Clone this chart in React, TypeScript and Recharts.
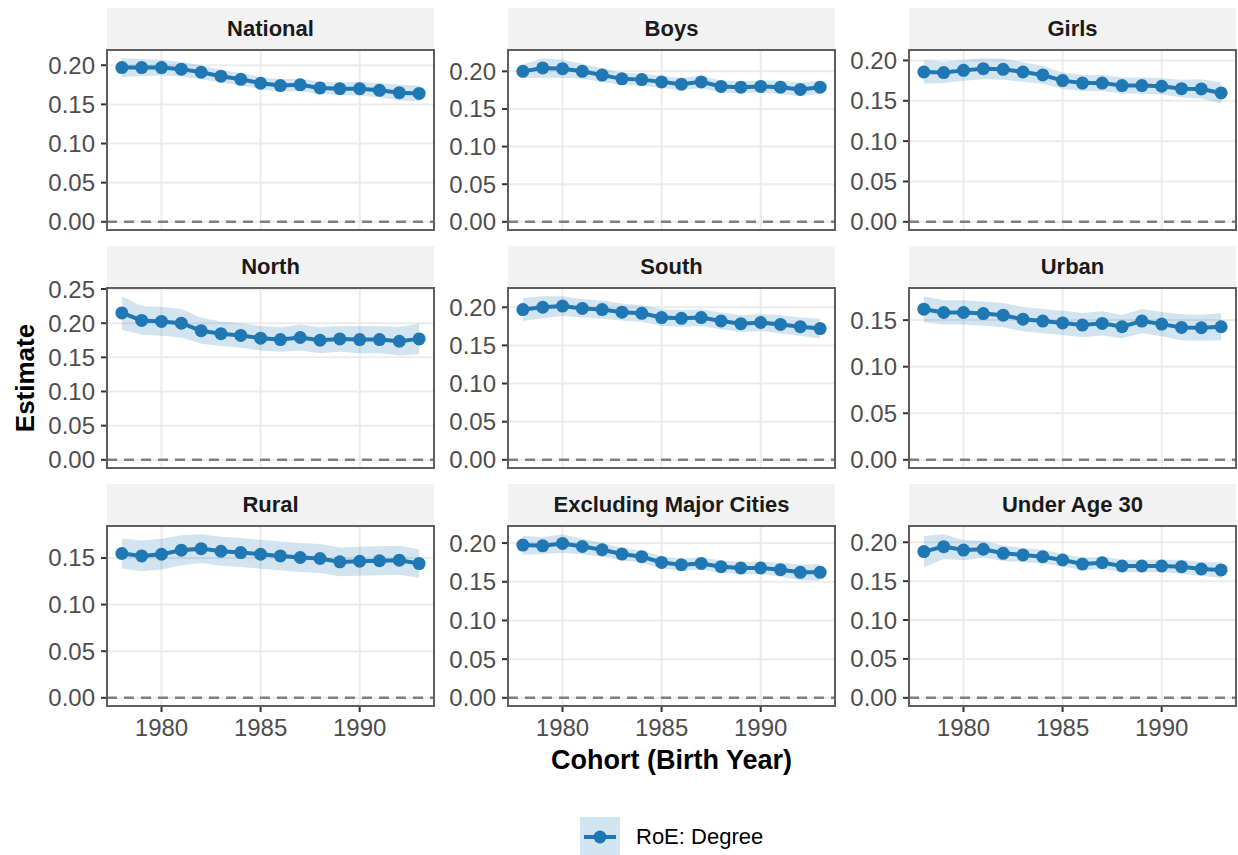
import React from "react";
import { Area, CartesianGrid, ComposedChart, Line, ReferenceLine, XAxis, YAxis } from "recharts";

const YEARS = [1978, 1979, 1980, 1981, 1982, 1983, 1984, 1985, 1986, 1987, 1988, 1989, 1990, 1991, 1992, 1993];
const X_TICKS = [1980, 1985, 1990];

const nationalEst = [0.197, 0.197, 0.197, 0.195, 0.191, 0.186, 0.182, 0.177, 0.174, 0.175, 0.171, 0.170, 0.170, 0.168, 0.165, 0.164];
const nationalMoe = [0.012, 0.011, 0.010, 0.009, 0.009, 0.008, 0.008, 0.008, 0.008, 0.008, 0.008, 0.008, 0.009, 0.009, 0.010, 0.010];
const boysEst = [0.200, 0.2045, 0.2035, 0.200, 0.195, 0.190, 0.189, 0.186, 0.183, 0.186, 0.180, 0.179, 0.180, 0.179, 0.176, 0.179];
const boysMoe = [0.009, 0.013, 0.012, 0.010, 0.009, 0.008, 0.008, 0.008, 0.008, 0.008, 0.008, 0.008, 0.008, 0.009, 0.009, 0.009];
const girlsEst = [0.1857, 0.185, 0.1877, 0.1898, 0.189, 0.1857, 0.182, 0.175, 0.172, 0.172, 0.1688, 0.1688, 0.168, 0.165, 0.1647, 0.1597];
const girlsMoe = [0.0145, 0.013, 0.013, 0.013, 0.013, 0.012, 0.011, 0.010, 0.010, 0.010, 0.010, 0.010, 0.010, 0.011, 0.012, 0.013];
const northEst = [0.215, 0.204, 0.2025, 0.200, 0.189, 0.1846, 0.182, 0.178, 0.176, 0.179, 0.175, 0.177, 0.176, 0.176, 0.1735, 0.177];
const northMoe = [0.0245, 0.021, 0.021, 0.021, 0.019, 0.018, 0.018, 0.018, 0.018, 0.019, 0.019, 0.019, 0.020, 0.020, 0.021, 0.0225];
const southEst = [0.197, 0.200, 0.2015, 0.1985, 0.197, 0.1935, 0.192, 0.1865, 0.1855, 0.1865, 0.182, 0.1785, 0.180, 0.1775, 0.1745, 0.172];
const southMoe = [0.015, 0.0145, 0.013, 0.012, 0.012, 0.011, 0.011, 0.011, 0.011, 0.011, 0.011, 0.011, 0.011, 0.012, 0.012, 0.013];
const urbanEst = [0.1617, 0.1582, 0.1582, 0.157, 0.1553, 0.151, 0.149, 0.147, 0.1447, 0.1465, 0.1429, 0.149, 0.1457, 0.1422, 0.1418, 0.1429];
const urbanMoe = [0.014, 0.013, 0.013, 0.013, 0.013, 0.013, 0.013, 0.013, 0.013, 0.013, 0.0125, 0.013, 0.013, 0.014, 0.014, 0.0145];
const ruralEst = [0.1548, 0.1522, 0.154, 0.1583, 0.160, 0.1572, 0.1558, 0.154, 0.1522, 0.1505, 0.1494, 0.1458, 0.1465, 0.147, 0.1476, 0.144];
const ruralMoe = [0.016, 0.0165, 0.0165, 0.016, 0.0155, 0.0155, 0.0155, 0.0155, 0.0155, 0.0155, 0.0155, 0.0155, 0.0155, 0.0155, 0.0155, 0.0152];
const exclEst = [0.1974, 0.1965, 0.1995, 0.1956, 0.1914, 0.1858, 0.1824, 0.175, 0.172, 0.1737, 0.1695, 0.1678, 0.1678, 0.1656, 0.1622, 0.1622];
const exclMoe = [0.012, 0.011, 0.012, 0.010, 0.009, 0.008, 0.008, 0.008, 0.008, 0.008, 0.008, 0.008, 0.008, 0.009, 0.010, 0.011];
const under30Est = [0.188, 0.1944, 0.190, 0.191, 0.1858, 0.1837, 0.1815, 0.1772, 0.172, 0.1737, 0.1695, 0.1695, 0.1695, 0.1686, 0.1656, 0.1644];
const under30Moe = [0.020, 0.016, 0.013, 0.011, 0.010, 0.009, 0.009, 0.008, 0.008, 0.008, 0.008, 0.008, 0.008, 0.009, 0.009, 0.010];

const PANELS = [
  { title: "National", est: nationalEst, moe: nationalMoe },
  { title: "Boys", est: boysEst, moe: boysMoe },
  { title: "Girls", est: girlsEst, moe: girlsMoe },
  { title: "North", est: northEst, moe: northMoe },
  { title: "South", est: southEst, moe: southMoe },
  { title: "Urban", est: urbanEst, moe: urbanMoe },
  { title: "Rural", est: ruralEst, moe: ruralMoe },
  { title: "Excluding Major Cities", est: exclEst, moe: exclMoe },
  { title: "Under Age 30", est: under30Est, moe: under30Moe },
];

const BLUE = "#1F77B4";
const COL_LEFT = [107, 508, 909];
const ROW_TOP = [50, 288, 526];
const PW = 327;
const PH = 180;
const STRIP_H = 42;
const Y_W = 100;
const X_H = 50;
const PAD = 16;

function Panel({ title, est, moe, col, row }: { title: string; est: number[]; moe: number[]; col: number; row: number }) {
  const data = YEARS.map((year, i) => ({ year, est: est[i], band: [est[i] - moe[i], est[i] + moe[i]] }));
  const hi = Math.max(...data.map((d) => d.band[1]));
  const domain = [-0.05 * hi, 1.05 * hi];
  const ticks: number[] = [];
  for (let k = 0; k * 0.05 <= domain[1] + 1e-9; k++) ticks.push(+(k * 0.05).toFixed(2));
  const bottom = row === 2;
  const left = COL_LEFT[col];
  const top = ROW_TOP[row];

  return (
    <>
      <div style={{
        position: "absolute", left, top: top - STRIP_H, width: PW, height: STRIP_H,
        background: "#F2F2F2", color: "#1A1A1A", fontWeight: "bold", fontSize: 22,
        display: "flex", alignItems: "center", justifyContent: "center",
      }}>{title}</div>
      <div style={{ position: "absolute", left: left - Y_W, top: top - PAD }}>
        <ComposedChart width={Y_W + PW} height={PH + PAD + (bottom ? X_H : PAD)} data={data}
                       margin={{ top: PAD, right: 0, bottom: bottom ? 0 : PAD, left: 0 }}>
          <CartesianGrid stroke="#EBEBEB" strokeWidth={2} />
          <XAxis type="number" dataKey="year" domain={[1977.25, 1993.75]} ticks={X_TICKS} interval={0}
                 hide={!bottom} height={X_H} axisLine={false} tickSize={6} tickMargin={7}
                 tickLine={{ stroke: "#333333", strokeWidth: 2 }}
                 tick={{ fill: "#4D4D4D", fontSize: 24 }} />
          <YAxis type="number" domain={domain} ticks={ticks} interval={0} width={Y_W} axisLine={false}
                 tickFormatter={(v: number) => v.toFixed(2)} tickSize={6} tickMargin={6}
                 tickLine={{ stroke: "#333333", strokeWidth: 2 }}
                 tick={{ fill: "#4D4D4D", fontSize: 24 }} />
          <Area dataKey="band" type="linear" fill={BLUE} fillOpacity={0.2} stroke="none"
                isAnimationActive={false} />
          <ReferenceLine y={0} stroke="#7F7F7F" strokeDasharray="10 7" strokeWidth={2.5} />
          <Line dataKey="est" type="linear" stroke={BLUE} strokeWidth={4}
                dot={{ r: 6.5, fill: BLUE, stroke: BLUE, strokeWidth: 0 }}
                isAnimationActive={false} />
        </ComposedChart>
      </div>
      <div style={{
        position: "absolute", left: left - 1, top: top - 1, width: PW + 2, height: PH + 2,
        boxSizing: "border-box", border: "2px solid #5E5E5E", pointerEvents: "none",
      }} />
    </>
  );
}

export default function App() {
  return (
    <div style={{
      position: "absolute", left: 0, top: 0, width: 1238, height: 855, background: "#fff",
      fontFamily: "'Liberation Sans', Arial, sans-serif", overflow: "hidden",
    }}>
      {PANELS.map((p, i) => (
        <Panel key={p.title} title={p.title} est={p.est} moe={p.moe} col={i % 3} row={Math.floor(i / 3)} />
      ))}
      <div style={{
        position: "absolute", left: 25, top: 378, transform: "translate(-50%, -50%) rotate(-90deg)",
        fontWeight: "bold", fontSize: 26, whiteSpace: "nowrap",
      }}>Estimate</div>
      <div style={{
        position: "absolute", left: COL_LEFT[1], width: PW, top: 744, height: 32, lineHeight: "32px",
        textAlign: "center", fontWeight: "bold", fontSize: 27, whiteSpace: "nowrap",
      }}>Cohort (Birth Year)</div>
      <div style={{ position: "absolute", left: 580, top: 817, display: "flex", alignItems: "center" }}>
        <svg width={40} height={40}>
          <rect x={0} y={0} width={40} height={40} fill={BLUE} fillOpacity={0.2} />
          <line x1={4} y1={20} x2={36} y2={20} stroke={BLUE} strokeWidth={4} />
          <circle cx={20} cy={20} r={6.5} fill={BLUE} />
        </svg>
        <span style={{ marginLeft: 16, fontSize: 22, color: "#000" }}>RoE: Degree</span>
      </div>
    </div>
  );
}
